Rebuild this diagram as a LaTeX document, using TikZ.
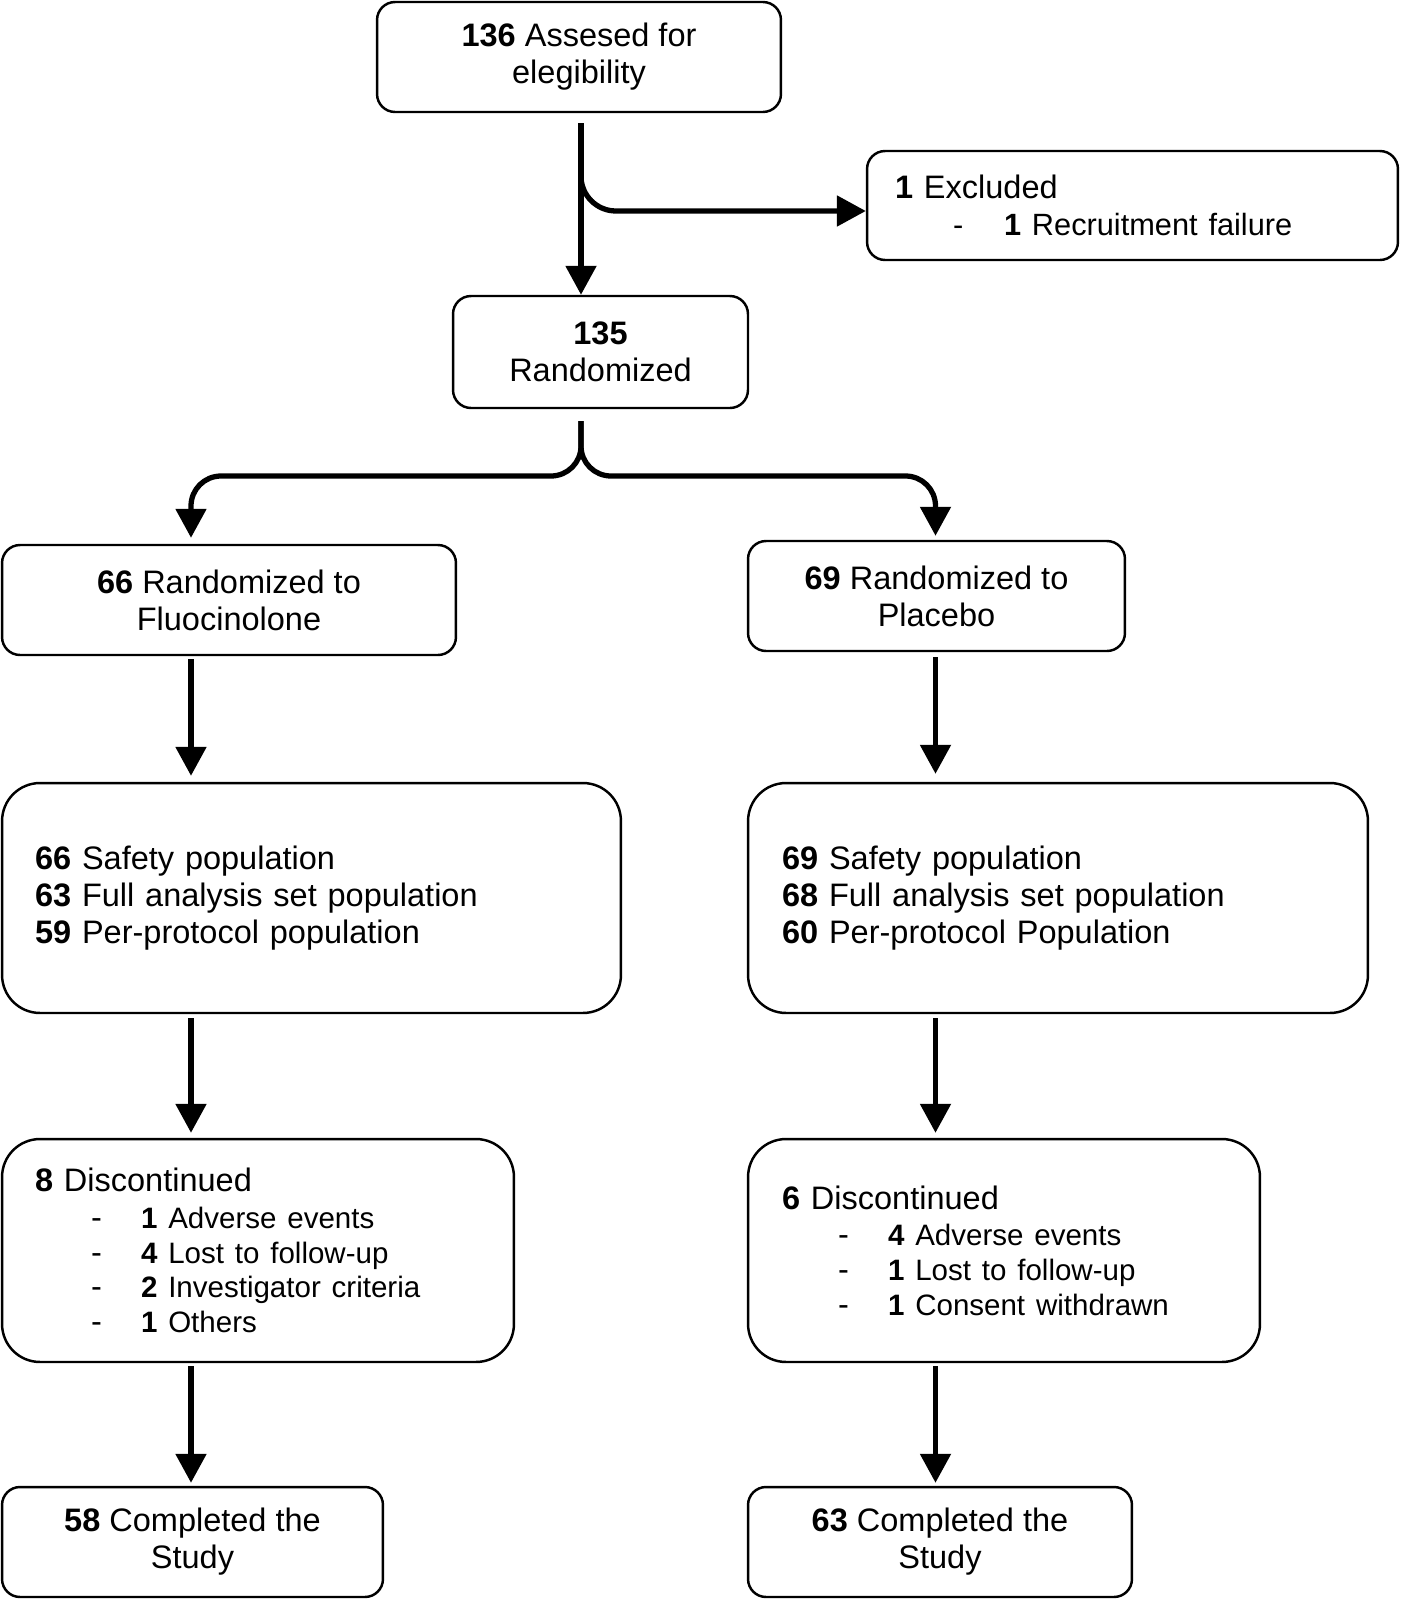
\documentclass[tikz,border=0pt]{standalone}
\usepackage{fontspec}
\setmainfont{Liberation Sans}
\usetikzlibrary{arrows.meta}
\def\exitem#1#2{\hspace*{1.12cm}\makebox[1cm][l]{-}{\fontsize{16.8}{21}\selectfont\textbf{#1} #2}}

\begin{document}
\begin{tikzpicture}[x=0.02cm,y=-0.02cm,
		box/.style={draw, line width=1.4pt, inner sep=0pt, font=\fontsize{18.5}{21}\selectfont, align=center, minimum height=2.2cm, rounded corners=0.36cm},
		bigbox/.style={box, align=left, inner xsep=0.66cm, rounded corners=0.76cm},
		arr/.style={line width=3pt, -{Triangle[width=0.6cm,length=0.58cm]}}]
				\useasboundingbox (0,0) rectangle (1400,1599);
				
				\node[box, minimum width=8.08cm] (elig) at (579,57) {\textbf{136} Assesed for\\elegibility};
				\node[box, align=left, text width=9.5cm, inner xsep=0.56cm, minimum height=2.18cm] (excl) at (1132.5,205.5) {\textbf{1} Excluded\\{\fontsize{17.5}{21}\selectfont\hspace*{1.16cm}\makebox[1.02cm][l]{-}\textbf{1} Recruitment failure}};
				\node[box, minimum width=5.9cm, minimum height=2.24cm] (rand) at (600.5,352) {\textbf{135}\\Randomized};
				
				\node[box, minimum width=9.08cm] (flu) at (229,600) {\textbf{66} Randomized to\\Fluocinolone};
				\node[box, minimum width=7.54cm] (plac) at (936.5,596) {\textbf{69} Randomized to\\Placebo};
				
				\node[bigbox, text width=11.06cm, minimum height=4.6cm] (popL) at (311.5,898) {\textbf{66} Safety population\\\textbf{63} Full analysis set population\\\textbf{59} Per-protocol population};
				\node[bigbox, text width=11.04cm, inner xsep=0.68cm, minimum height=4.6cm] (popR) at (1058,898) {\textbf{69} Safety population\\\textbf{68} Full analysis set population\\\textbf{60} Per-protocol Population};
				
				\node[bigbox, text width=8.92cm, minimum height=4.46cm] (discL) at (258,1250.5) {\textbf{8} Discontinued\\\exitem{1}{Adverse events}\\[-1.3pt]\exitem{4}{Lost to follow-up}\\[-1.3pt]\exitem{2}{Investigator criteria}\\[-1.3pt]\exitem{1}{Others}};
				\node[bigbox, text width=8.88cm, inner xsep=0.68cm, minimum height=4.46cm] (discR) at (1004,1250.5) {\textbf{6} Discontinued\\\exitem{4}{Adverse events}\\[-1.3pt]\exitem{1}{Lost to follow-up}\\[-1.3pt]\exitem{1}{Consent withdrawn}};
				
				\node[box, minimum width=7.62cm] (compL) at (192.5,1542) {\textbf{58} Completed the\\Study};
				\node[box, minimum width=7.68cm] (compR) at (940,1542) {\textbf{63} Completed the\\Study};
				
				\coordinate (branch) at (581,160);
				\coordinate (fork) at (581,476);
				\coordinate (colL) at (191,0);
				\coordinate (colR) at (935.5,0);
				
				\draw[arr, shorten <=0.2cm] (elig.south -| fork) -- (rand.north -| fork);
				\draw[arr, rounded corners=0.7cm] (branch) |- ([yshift=-0.11cm]excl.west);
				
				\draw[arr, rounded corners=0.6cm, shorten <=0.24cm, shorten >=0.12cm] (rand.south -| fork) -- (fork) -| (colL |- flu.north);
				\draw[arr, rounded corners=0.6cm, shorten <=0.24cm, shorten >=0.08cm] (rand.south -| fork) -- (fork) -| (colR |- plac.north);
				
				\draw[arr, shorten <=0.06cm, shorten >=0.12cm] (colL |- flu.south) -- (colL |- popL.north);
				\draw[arr, shorten <=0.08cm, shorten >=0.1cm] (colL |- popL.south) -- (colL |- discL.north);
				\draw[arr, shorten <=0.06cm, shorten >=0.06cm] (colL |- discL.south) -- (colL |- compL.north);
				
				\draw[arr, shorten <=0.1cm, shorten >=0.16cm] (colR |- plac.south) -- (colR |- popR.north);
				\draw[arr, shorten <=0.08cm, shorten >=0.1cm] (colR |- popR.south) -- (colR |- discR.north);
				\draw[arr, shorten <=0.06cm, shorten >=0.06cm] (colR |- discR.south) -- (colR |- compR.north);
			\end{tikzpicture}
\end{document}
